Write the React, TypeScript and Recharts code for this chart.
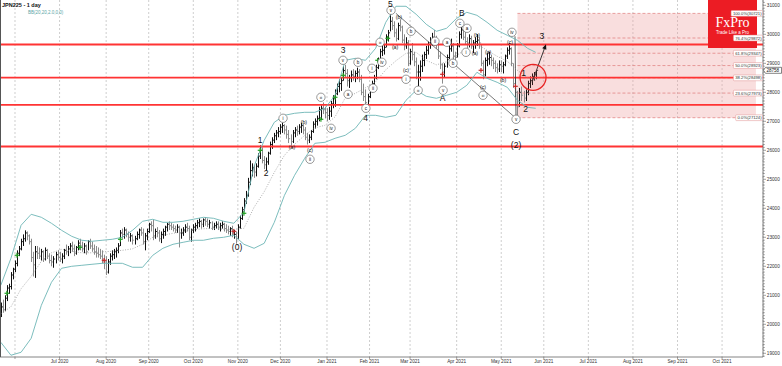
import React from 'react';
import { ComposedChart, Bar, Line, Scatter, XAxis, YAxis, CartesianGrid, ReferenceLine, ReferenceArea, ReferenceDot } from 'recharts';

// ---------- DATA (bar index 0 = 21 May 2020, one index per weekday) ----------
const HIGH = [
  20750,20850,21000,21350,21400,21800,21950,22200,22550,22700,
  22950,23100,23240,23200,23100,22950,22500,22700,22700,22650,
  22600,22550,22650,22600,22450,22400,22350,22500,22550,22500,
  22450,22600,22750,22700,22800,22850,22750,22700,22900,22950,
  22850,22800,22750,22900,22950,22850,22750,22700,22650,22600,
  22550,22400,22350,22250,22450,22550,22600,22650,22800,23250,
  23300,23350,23300,23200,23150,23100,23050,23200,23300,23350,
  23300,23150,23300,23500,23550,23600,23300,23350,23250,23200,
  23300,23400,23500,23550,23500,23450,23400,23450,23400,23300,
  23350,23450,23500,23400,23300,23450,23500,23600,23650,23600,
  23650,23700,23650,23600,23550,23500,23550,23550,23500,23550,
  23500,23450,23400,23350,23400,23250,23200,23450,23750,24050,
  24350,24600,25050,25650,25550,25500,25550,25900,26170,26100,
  25800,25750,25950,26300,26450,26600,26700,26800,26900,26950,
  26900,26850,26700,26550,26700,26800,26850,26900,26950,26900,
  26800,26600,26550,26700,27000,27100,27200,27500,27550,27650,
  27500,27450,27500,27700,27900,28100,28300,28450,28500,28900,
  28950,28800,28600,28750,28800,28750,28850,28800,28600,28300,
  28100,27950,28250,28400,28600,28950,29200,29500,29700,29650,
  30000,30150,30714,30600,30450,30200,30400,30500,30300,30000,
  29900,29800,29500,29700,29400,29200,28950,29100,29300,29400,
  29600,29750,29900,30050,30150,29950,29750,29400,29000,29000,
  29300,29650,29850,29700,29400,29700,30100,30300,30250,30100,
  29900,30000,29950,29800,29900,30000,29900,29650,29100,29200,
  29350,29400,29300,29200,29100,29000,29100,29100,29050,29300,
  29550,29700,29550,29000,28500,28050,28150,28200,28050,28100,
  28400,28550,28650,28700,28750,
];
const LOW = [
  20250,20400,20450,20800,21050,21200,21550,21800,22000,22350,
  22550,22700,22850,22900,22750,22150,21650,21600,22250,22250,
  22200,22150,22200,22250,22100,22000,21950,22100,22200,22150,
  22100,22250,22400,22350,22450,22500,22350,22400,22550,22550,
  22500,22450,22400,22550,22600,22500,22400,22300,22300,22250,
  22100,21900,21700,21750,22050,22200,22250,22300,22450,22700,
  22950,22950,23000,22850,22850,22750,22750,22900,22950,23050,
  22750,22550,22900,23150,23200,22900,22950,23000,22850,22800,
  22950,23050,23200,23250,23250,23200,23150,23150,22650,22950,
  23050,23150,23200,22900,22850,23150,23200,23300,23350,23300,
  23350,23400,23350,23300,23250,23250,23300,23250,23200,23300,
  23200,23150,23100,23050,23000,22950,22780,22950,23300,23600,
  23900,24150,24400,24800,25100,25050,25100,25400,25700,25550,
  25350,25300,25500,25850,26050,26250,26350,26450,26550,26600,
  26550,26400,26250,26150,26250,26450,26500,26550,26600,26550,
  26350,26200,26250,26350,26600,26750,26850,27000,27050,27250,
  27100,27000,27050,27150,27450,27500,27900,28000,28050,28400,
  28500,28200,28150,28350,28400,28350,28450,28350,27900,27700,
  27450,27550,27800,28000,28200,28450,28800,29100,29250,29300,
  29550,29750,30100,30150,29900,29750,29800,30100,29700,29450,
  29500,28900,28950,29100,28900,28450,28200,28400,28700,28900,
  29150,29300,29500,29600,29700,29500,29150,28800,28300,28500,
  28850,29150,29400,29100,28900,29200,29550,29850,29800,29650,
  29450,29550,29500,29350,29500,29600,29500,28900,28450,28550,
  28900,28950,28900,28800,28700,28650,28700,28700,28650,28900,
  29150,29300,28900,28150,27800,27124,27500,27700,27650,27700,
  27900,28150,28250,28400,28450,
];
const CLOSE = [
  20600,20500,20900,21250,21300,21700,21900,22100,22450,22600,
  22850,22950,23150,23050,22850,22300,22050,22500,22450,22350,
  22500,22250,22550,22350,22200,22150,22250,22400,22300,22250,
  22350,22550,22500,22600,22700,22600,22450,22650,22800,22700,
  22600,22700,22500,22850,22700,22600,22500,22450,22400,22350,
  22200,22150,21800,22150,22350,22400,22500,22550,22700,23150,
  23100,23250,23100,23000,23050,22900,22950,23100,23250,23150,
  22850,23050,23200,23450,23400,23050,23200,23150,22950,23100,
  23200,23350,23450,23400,23350,23300,23250,23350,23150,23150,
  23250,23350,23300,23000,23250,23350,23400,23500,23550,23450,
  23600,23550,23450,23500,23350,23400,23450,23350,23400,23450,
  23300,23250,23200,23300,23100,23100,22950,23350,23650,23950,
  24250,24450,24900,25300,25400,25250,25450,25800,26000,25650,
  25500,25600,25900,26200,26350,26500,26600,26650,26800,26850,
  26700,26550,26400,26300,26600,26700,26650,26800,26850,26700,
  26450,26350,26450,26650,26900,27000,27100,27400,27450,27400,
  27300,27200,27350,27600,27800,27950,28200,28300,28400,28750,
  28650,28400,28500,28600,28550,28650,28700,28450,28000,27850,
  27650,27850,28150,28300,28500,28850,29100,29400,29450,29550,
  29900,30050,30450,30300,30050,29850,30300,30250,29800,29600,
  29700,29000,29400,29300,29050,28700,28700,28900,29100,29300,
  29450,29650,29750,29900,29800,29650,29250,28950,28700,28900,
  29200,29500,29600,29250,29200,29600,30000,30150,29900,29750,
  29700,29850,29600,29700,29750,29800,29700,29000,28600,29100,
  29150,29200,29100,29000,28850,28800,28950,28900,28950,29250,
  29450,29500,29000,28300,28000,27500,28000,27900,27800,28000,
  28300,28400,28550,28600,28758,
];

// Bollinger band readings (bar index, upper / middle / lower)
const BB_IDX = [0,5,10,15,20,25,30,35,40,45,50,55,60,65,70,75,80,85,90,95,100,105,110,115,120,125,130,135,140,145,150,155,160,165,170,175,180,185,190,195,200,205,210,215,220,225,230,235,240,245,250,255,260,264];
const BB_UPPER = [21345,22276,23414,23793,23690,23483,23241,23034,22897,22862,22897,22931,23000,23241,23552,23621,23517,23517,23552,23621,23690,23655,23552,23483,23862,25450,26345,26966,27207,27276,27310,27310,27448,27897,29103,29172,29103,29517,30414,30966,30966,30690,30345,30103,30207,30552,30759,30655,30414,30138,29966,29793,29517,29379];
const BB_MID = [20362,20604,21224,21655,22172,22465,22586,22517,22465,22465,22500,22517,22551,22603,22759,23000,23069,23138,23190,23259,23293,23310,23276,23276,23310,24035,24569,25241,25827,26207,26517,26775,26862,27155,27810,27965,28155,28362,28776,29086,29345,29379,29103,28948,29052,29276,29500,29672,29448,29241,29069,28758,28500,28413];
const BB_LOWER = [19380,18932,19035,19518,20655,21448,21931,22000,22034,22069,22103,22103,22103,21966,21966,22379,22621,22759,22828,22897,22897,22966,23000,23069,22759,22621,22793,23517,24448,25138,25724,26241,26276,26414,26517,26759,27207,27207,27138,27207,27724,28069,27862,27793,27897,28000,28241,28690,28483,28345,28172,27724,27483,27448];

// month ticks (bar index of first weekday of month)
const MONTH_IDX = [7,29,52,73,95,117,138,161,182,202,225,247,268,290,312,334,356];
const MONTH_LABELS = ['', 'Jul 2020', 'Aug 2020', 'Sep 2020', 'Oct 2020', 'Nov 2020', 'Dec 2020', 'Jan 2021', 'Feb 2021', 'Mar 2021', 'Apr 2021', 'May 2021', 'Jun 2021', 'Jul 2021', 'Aug 2021', 'Sep 2021', 'Oct 2021'];
const PRICE_LABELS = [19000,20000,21000,22000,23000,24000,25000,26000,27000,28000,29000,30000,31000];

// horizontal support / resistance lines
const RED_LEVELS = [29648, 28507, 27569, 26131];

// fibonacci retracement
const FIB_LOW = 27124;
const FIB_HIGH = 30721;
const FIB_START_IDX = 255;
const FIB_END_IDX = 372.7;
const FIB_LEVELS = [0, 23.6, 38.2, 50, 61.8, 76.4, 100];

// indicator markers
const GREEN_IDX = [3, 8, 39, 59, 120, 128, 158, 165, 169, 186, 191];
const GREEN_PRICE = [21070, 22380, 22655, 22931, 23828, 26000, 27069, 27828, 28586, 29104, 29862];
const RED_IDX = [51, 115, 218, 237, 254];
const RED_PRICE = [22207, 23207, 28621, 28759, 28207];

// Elliott wave labels
const EW_TEXT = ['(0)', '1', '2', '3', '4', '5', 'A', 'B', 'C', '(2)', '1', '2', '3'];
const EW_IDX = [116.6, 128, 131, 169, 180, 192.3, 218, 227.6, 254.3, 254.3, 258, 259, 267];
const EW_PRICE = [22655, 26345, 25207, 29448, 27103, 31040, 27793, 30724, 26621, 26172, 28655, 27414, 29931];

const CW_TEXT = ['i','(a)','(b)','(c)','ii','iii','iv','v','a','b','c','i','ii','iii','iv','v','(a)','(b)','(c)','i','b','iii','ii','v','a','b','c','a','i','(a)','(b)','(c)','iii','(a)','(b)','(c)','iv','v'];
const CW_IDX = [139.3,143.7,149.6,152.6,152.6,158.0,163.0,168.9,171.4,176.3,180.2,183.2,183.7,187.2,188.1,192.6,194.6,196.5,200.0,200.0,202.5,206.0,214.3,218.3,220.2,223.2,226.6,230.1,229.6,234.0,235.0,238.0,238.0,240.5,247.9,251.3,252.3,254.3];
const CW_PRICE = [27104,26104,26966,26000,25690,27828,26759,29104,27931,29035,27449,28828,28138,29724,29035,30828,29552,30586,28759,28449,30104,28069,29759,28069,29724,29000,30379,30207,29379,29345,29966,28173,27897,29379,28414,29724,30069,27069];

// drawn lines
const TREND = [[195, 30724], [254.3, 27103]];
const WAVE_LINE = [[253.8, 29931], [254.3, 27138]];
const ARROW = [[262.2, 28345], [269.1, 29655]];
const CIRCLE_CENTER = [262.7, 28517];

// ---------- LAYOUT ----------
const W = 782;
const H = 366;
const X_DOMAIN: [number, number] = [-0.4, 376.2];
const Y_DOMAIN: [number, number] = [18872, 31183];
const FONT = '"Liberation Sans", Arial, Helvetica, sans-serif';
const TEAL = '#6db5b5';

const rows: any[] = HIGH.map((h, i) => ({
  j: i,
  range: [LOW[i], h],
  close: CLOSE[i],
  prev: i > 0 ? CLOSE[i - 1] : CLOSE[i],
}));
const bbData = BB_IDX.map((j, k) => ({ j, u: BB_UPPER[k], m: BB_MID[k], l: BB_LOWER[k] }));

const greenData = GREEN_IDX.map((j, k) => ({ j, v: GREEN_PRICE[k] }));
const redData = RED_IDX.map((j, k) => ({ j, v: RED_PRICE[k] }));
const ewData = EW_IDX.map((j, k) => ({ j, v: EW_PRICE[k], t: EW_TEXT[k] }));
const cwData = CW_IDX.map((j, k) => ({ j, v: CW_PRICE[k], t: CW_TEXT[k] }));

const yTicks: number[] = [];
for (let v = 18900; v <= 31100; v += 100) yTicks.push(v);

const monthLabel = (v: number) => {
  const k = MONTH_IDX.indexOf(v);
  return k >= 0 ? MONTH_LABELS[k] : '';
};

const BarShape = (p: any) => {
  const { x, y, width, height, payload } = p;
  if (x == null || !payload) return null;
  const top = Math.min(y, y + height);
  const h = Math.abs(height);
  const cx = Math.round(x + width / 2) + 0.5;
  const hi = payload.range[1];
  const lo = payload.range[0];
  const cy = hi === lo ? top : top + ((hi - payload.close) / (hi - lo)) * h;
  const color = payload.close >= payload.prev ? '#111' : '#8a8a8a';
  return (
    <g>
      <line x1={cx} x2={cx} y1={top} y2={top + h} stroke={color} strokeWidth={1} />
      <line x1={cx} x2={cx + 1.6} y1={cy} y2={cy} stroke={color} strokeWidth={0.9} />
    </g>
  );
};

const plusShape = (color: string) => (p: any) => {
  const { cx, cy } = p;
  if (cx == null) return null;
  return (
    <g>
      <line x1={cx - 2.4} x2={cx + 2.4} y1={cy} y2={cy} stroke={color} strokeWidth={1.2} />
      <line x1={cx} x2={cx} y1={cy - 2.4} y2={cy + 2.4} stroke={color} strokeWidth={1.2} />
    </g>
  );
};

const EwTextShape = (p: any) => {
  if (p.cx == null) return null;
  return (
    <text x={p.cx} y={p.cy} dy="0.36em" textAnchor="middle" fontSize={8.5} fill="#111" fontFamily={FONT}>
      {p.payload.t}
    </text>
  );
};

const CwShape = (p: any) => {
  if (p.cx == null) return null;
  const t: string = p.payload.t;
  if (t.startsWith('(')) {
    return (
      <text x={p.cx} y={p.cy} dy="0.36em" textAnchor="middle" fontSize={5.2} fill="#111" fontFamily={FONT}>
        {t}
      </text>
    );
  }
  return (
    <g>
      <circle cx={p.cx} cy={p.cy} r={4.2} fill="#fff" stroke="#555" strokeWidth={0.6} />
      <text x={p.cx} y={p.cy} dy="0.36em" textAnchor="middle" fontSize={t.length > 2 ? 3.6 : 4.6} fill="#111" fontFamily={FONT}>
        {t}
      </text>
    </g>
  );
};

const YTick = (p: any) => {
  const { x, y, payload } = p;
  const v = payload.value;
  const major = PRICE_LABELS.indexOf(v) >= 0;
  return (
    <g>
      <line x1={x} x2={x + (major ? 3 : 1.8)} y1={y} y2={y} stroke="#666" strokeWidth={0.6} />
      {major && (
        <text x={x + 3.8} y={y} dy="0.36em" fontSize={4.7} fill="#333" fontFamily={FONT}>
          {v}
        </text>
      )}
    </g>
  );
};

const ArrowShape = (p: any) => {
  const { x1, y1, x2, y2 } = p;
  if (x1 == null) return null;
  const ang = Math.atan2(y2 - y1, x2 - x1);
  const L = 5;
  const Wd = 2.2;
  const hx = x2 - L * Math.cos(ang);
  const hy = y2 - L * Math.sin(ang);
  const px = -Math.sin(ang) * Wd;
  const py = Math.cos(ang) * Wd;
  return (
    <g>
      <line x1={x1} y1={y1} x2={hx} y2={hy} stroke="#222" strokeWidth={0.9} />
      <polygon points={`${x2},${y2} ${hx + px},${hy + py} ${hx - px},${hy - py}`} fill="#111" />
    </g>
  );
};

const FibLabel = (p: any) => {
  const { viewBox, text } = p;
  if (!viewBox) return null;
  const right = viewBox.x + viewBox.width - 0.5;
  const w = text.length * 2.3 + 1.5;
  const y = viewBox.y;
  return (
    <g>
      <rect x={right - w} y={y - 2.9} width={w} height={5.8} fill="#fff" stroke="#e09090" strokeWidth={0.5} rx={0.8} />
      <text x={right - 0.9} y={y} dy="0.36em" textAnchor="end" fontSize={4.2} fill="#333" fontFamily={FONT}>
        {text}
      </text>
    </g>
  );
};

const PriceTag = (p: any) => {
  const { viewBox, text } = p;
  if (!viewBox) return null;
  const x = viewBox.x + viewBox.width;
  const y = viewBox.y;
  return (
    <g>
      <path d={`M${x + 0.5},${y} L${x + 2.5},${y - 3} L${x + 18.5},${y - 3} L${x + 18.5},${y + 3} L${x + 2.5},${y + 3} Z`} fill="#fff" stroke="#333" strokeWidth={0.6} />
      <text x={x + 3.4} y={y} dy="0.36em" fontSize={4.6} fill="#111" fontFamily={FONT}>
        {text}
      </text>
    </g>
  );
};

const fibValue = (lvl: number) => FIB_LOW + ((FIB_HIGH - FIB_LOW) * lvl) / 100;

export default function App() {
  const lastClose = CLOSE[CLOSE.length - 1];
  return (
    <div style={{ position: 'fixed', left: 0, top: 0, width: W, height: H, background: '#fff', overflow: 'hidden' }}>
      <div style={{ position: 'absolute', left: 0, top: 0, zIndex: 0 }}>
        <ComposedChart width={W} height={H} data={rows} margin={{ top: 0, right: 0, bottom: 0, left: 0 }}>
          <CartesianGrid horizontal={false} stroke="#b9b9b9" strokeDasharray="2 2" strokeWidth={0.7} />
          <XAxis
            dataKey="j"
            type="number"
            domain={X_DOMAIN}
            allowDataOverflow
            ticks={MONTH_IDX}
            interval={0}
            height={9}
            tickSize={2}
            tickMargin={1}
            tickFormatter={monthLabel}
            tick={{ fontSize: 4.7, fill: '#333', fontFamily: FONT }}
            axisLine={{ stroke: '#666', strokeWidth: 0.8 }}
            tickLine={{ stroke: '#666', strokeWidth: 0.6 }}
          />
          <YAxis
            orientation="right"
            type="number"
            domain={Y_DOMAIN}
            allowDataOverflow
            ticks={yTicks}
            interval={0}
            width={19}
            tickSize={0}
            tickMargin={0}
            tickLine={false}
            tick={<YTick />}
            axisLine={{ stroke: '#666', strokeWidth: 0.8 }}
          />
          <ReferenceArea x1={FIB_START_IDX} x2={FIB_END_IDX} y1={FIB_LOW} y2={FIB_HIGH} fill="#ec9a9a" fillOpacity={0.33} stroke="none" />
          {FIB_LEVELS.map((lvl) => (
            <ReferenceLine
              key={'fl' + lvl}
              segment={[{ x: FIB_START_IDX, y: fibValue(lvl) }, { x: FIB_END_IDX, y: fibValue(lvl) }]}
              stroke="#e07a7a"
              strokeWidth={0.7}
              strokeDasharray="3 2"
            />
          ))}
          {RED_LEVELS.map((v) => (
            <ReferenceLine key={'rl' + v} y={v} stroke="#ff3333" strokeWidth={1.8} />
          ))}
          <ReferenceLine segment={[{ x: TREND[0][0], y: TREND[0][1] }, { x: TREND[1][0], y: TREND[1][1] }]} stroke="#555" strokeWidth={0.8} />
          <ReferenceLine segment={[{ x: WAVE_LINE[0][0], y: WAVE_LINE[0][1] }, { x: WAVE_LINE[1][0], y: WAVE_LINE[1][1] }]} stroke="#333" strokeWidth={0.8} />
          <Line data={bbData} dataKey="u" stroke={TEAL} strokeWidth={0.9} dot={false} activeDot={false} isAnimationActive={false} />
          <Line data={bbData} dataKey="l" stroke={TEAL} strokeWidth={0.9} dot={false} activeDot={false} isAnimationActive={false} />
          <Line data={bbData} dataKey="m" stroke="#8d8d8d" strokeWidth={0.7} strokeDasharray="1 1.5" dot={false} activeDot={false} isAnimationActive={false} />
          <Bar dataKey="range" barSize={2} shape={<BarShape />} isAnimationActive={false} />
          <ReferenceDot x={CIRCLE_CENTER[0]} y={CIRCLE_CENTER[1]} r={13} fill="#ff6b6b" fillOpacity={0.12} stroke="#e82525" strokeWidth={1.3} />
          <ReferenceLine segment={[{ x: ARROW[0][0], y: ARROW[0][1] }, { x: ARROW[1][0], y: ARROW[1][1] }]} shape={ArrowShape} />
          <Scatter data={greenData} dataKey="v" shape={plusShape('#23a023')} isAnimationActive={false} />
          <Scatter data={redData} dataKey="v" shape={plusShape('#c62828')} isAnimationActive={false} />
          <Scatter data={cwData} dataKey="v" shape={<CwShape />} isAnimationActive={false} />
          <Scatter data={ewData} dataKey="v" shape={<EwTextShape />} isAnimationActive={false} />
        </ComposedChart>
      </div>

      <div style={{ position: 'absolute', left: 708, top: 0, width: 49, height: 48, background: '#ec1c24', zIndex: 1 }}>
        <svg width={49} height={48}>
          <text x={24.5} y={27} textAnchor="middle" fontSize={14} fill="#fff" fontFamily='"Liberation Serif", "DejaVu Serif", serif'>FxPro</text>
          <text x={24.5} y={33.5} textAnchor="middle" fontSize={4.5} fill="#fff" fontFamily={FONT}>Trade Like a Pro</text>
        </svg>
      </div>

      <div style={{ position: 'absolute', left: 0, top: 0, zIndex: 2, pointerEvents: 'none' }}>
        <ComposedChart width={W} height={H} data={rows} margin={{ top: 0, right: 0, bottom: 0, left: 0 }}>
          <XAxis dataKey="j" type="number" domain={X_DOMAIN} allowDataOverflow height={9} tick={false} tickLine={false} axisLine={false} />
          <YAxis orientation="right" type="number" domain={Y_DOMAIN} allowDataOverflow width={19} tick={false} tickLine={false} axisLine={false} />
          {FIB_LEVELS.map((lvl) => (
            <ReferenceLine
              key={'fx' + lvl}
              y={fibValue(lvl)}
              stroke="none"
              label={<FibLabel text={`${lvl.toFixed(1)}%(${Math.round(fibValue(lvl))})`} />}
            />
          ))}
          <ReferenceLine y={lastClose} stroke="none" label={<PriceTag text={String(lastClose)} />} />
        </ComposedChart>
      </div>

      <svg width={W} height={H} style={{ position: 'absolute', left: 0, top: 0, zIndex: 3, pointerEvents: 'none' }}>
        <line x1={0.5} x2={0.5} y1={0} y2={357} stroke="#555" strokeWidth={1} />
        <text x={2} y={7} fontSize={5.5} fontWeight="bold" fill="#111" fontFamily={FONT}>JPN225 - 1 day</text>
        <text x={28} y={14} fontSize={4.5} fill="#5aa5a5" fontFamily={FONT}>BB(20,20,2.0,0,0)</text>
      </svg>
    </div>
  );
}
